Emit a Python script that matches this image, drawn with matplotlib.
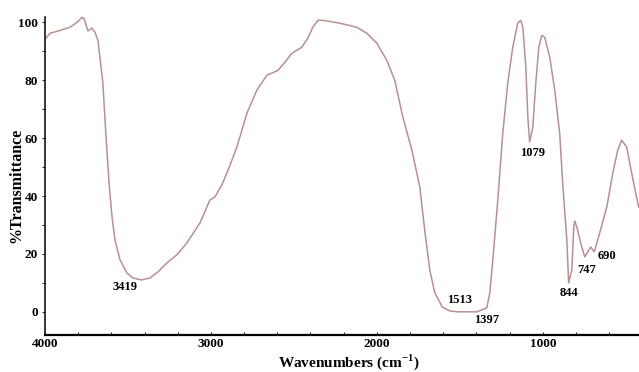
import matplotlib.pyplot as plt
from matplotlib.ticker import MultipleLocator

# FTIR spectrum, wavenumber (cm-1) vs %T
wavenumber = [3994, 3970, 3910, 3849, 3807, 3777, 3765, 3741, 3717, 3699,
              3681, 3669, 3651, 3639, 3627, 3614, 3596, 3578, 3548, 3506,
              3470, 3419, 3367, 3319, 3265, 3205, 3145, 3066, 3006, 2976,
              2934, 2886, 2843, 2783, 2723, 2663, 2596, 2554, 2512, 2452,
              2416, 2386, 2355, 2325, 2223, 2120, 2060, 2000, 1940, 1892,
              1843, 1789, 1741, 1711, 1681, 1651, 1605, 1560, 1513, 1440,
              1397, 1337, 1319, 1301, 1271, 1241, 1211, 1181, 1151, 1133,
              1120, 1102, 1090, 1079, 1060, 1042, 1024, 1006, 988, 958,
              928, 898, 880, 855, 844, 825, 813, 807, 795, 765,
              747, 729, 711, 699, 690, 657, 614, 578, 548, 524,
              494, 464, 440, 422]
transmittance = [94.5, 96.2, 97.2, 98.3, 100.0, 101.7, 101.4, 97.0, 98.0, 96.6,
                 93.8, 88.0, 79.0, 67.0, 56.0, 44.5, 32.8, 24.8, 18.0, 13.4,
                 11.7, 11.0, 11.7, 13.8, 16.9, 19.7, 23.8, 30.7, 38.6, 39.7,
                 43.8, 50.5, 57.0, 68.6, 76.6, 81.7, 83.4, 86.2, 89.3, 91.4,
                 94.5, 98.3, 100.7, 100.7, 99.7, 98.3, 96.2, 92.8, 86.9, 80.0,
                 67.2, 55.9, 43.1, 28.0, 14.5, 6.6, 1.6, 0.3, 0.0, 0.0,
                 0.0, 1.4, 6.6, 18.0, 38.6, 61.7, 79.0, 91.4, 99.7, 100.7,
                 98.3, 84.5, 67.2, 58.6, 63.8, 79.0, 91.4, 95.5, 94.8, 88.0,
                 76.6, 61.7, 44.5, 24.8, 10.0, 14.5, 29.3, 31.4, 29.3, 22.4,
                 19.0, 20.7, 22.4, 21.4, 20.7, 27.2, 36.2, 47.9, 55.9, 59.3,
                 56.9, 47.9, 41.0, 36.2]

peak_labels = ["3419", "1513", "1397", "1079", "844", "747", "690"]
label_x = [3518, 1500, 1337, 1060, 843, 735, 614]
label_y = [8.6, 4.1, -2.8, 55.0, 6.6, 14.5, 19.3]

plt.rcParams['font.family'] = ['Liberation Serif', 'DejaVu Serif']
plt.rcParams['mathtext.fontset'] = 'custom'
plt.rcParams['mathtext.rm'] = 'Liberation Serif:bold'
plt.rcParams['mathtext.bf'] = 'Liberation Serif:bold'

fig = plt.figure(figsize=(6.39, 3.72), dpi=100)
ax = fig.add_axes([0.0704, 0.0995, 0.9296, 0.8545])

ax.plot(wavenumber, transmittance, color="#b99090", linewidth=1.1,
        solid_joinstyle="round", clip_on=False)

for txt, x, y in zip(peak_labels, label_x, label_y):
    ax.text(x, y, txt, fontsize=9, fontweight="bold", ha="center", va="center")

ax.set_xlim(4000, 420)
ax.set_ylim(-8, 101.8)
ax.xaxis.set_major_locator(MultipleLocator(1000))
ax.xaxis.set_minor_locator(MultipleLocator(200))
ax.yaxis.set_minor_locator(MultipleLocator(10))
ax.set_yticks(range(0, 101, 20))

ax.spines["top"].set_visible(False)
ax.spines["right"].set_visible(False)
ax.spines["bottom"].set_linewidth(1.6)
ax.spines["left"].set_linewidth(1.1)

ax.tick_params(axis="x", which="major", direction="in", length=2, width=0.6, pad=2)
ax.tick_params(axis="x", which="minor", direction="in", length=2, width=0.6)
ax.tick_params(axis="y", which="major", direction="out", length=2, width=0.6, pad=3)
ax.tick_params(axis="y", which="minor", direction="out", length=2, width=0.6)
for lbl in ax.get_xticklabels() + ax.get_yticklabels():
    lbl.set_fontweight("bold")
    lbl.set_fontsize(9.5)

ax.set_xlabel("Wavenumbers (cm$^{-1}$)", fontsize=11, fontweight="bold")
ax.set_ylabel("%Transmittance", fontsize=11.5, fontweight="bold")
ax.xaxis.set_label_coords(0.512, -0.055)
ax.yaxis.set_label_coords(-0.034, 0.47)

fig.savefig("out.png", dpi=100)
